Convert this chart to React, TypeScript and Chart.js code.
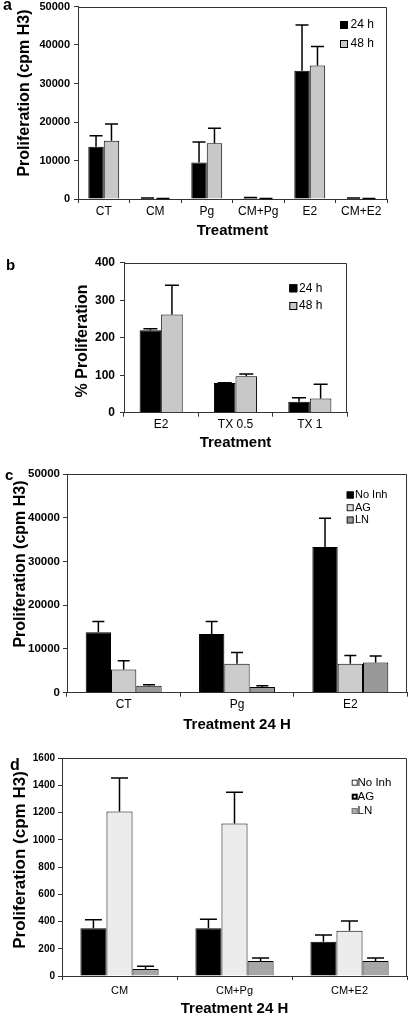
import React, { useEffect, useRef } from "react";
import { Chart, registerables } from "chart.js";

Chart.register(...registerables);
Chart.defaults.font.family = "'Liberation Sans', Arial, sans-serif";
Chart.defaults.color = "#000";

// ---------- Panel a ----------
const catsA = ["CT", "CM", "Pg", "CM+Pg", "E2", "CM+E2"];
const a24h = [13600, 200, 9500, 300, 33300, 200];
const a24hErr = [16400, 260, 14800, 420, 45200, 260];
const a48h = [15100, 100, 14500, 100, 34700, 100];
const a48hErr = [19500, 140, 18400, 140, 39600, 140];
const yMaxA = 50000;
const yStepA = 10000;

// ---------- Panel b ----------
const catsB = ["E2", "TX 0.5", "TX 1"];
const b24h = [220, 79, 29];
const b24hErr = [224, 80, 40];
const b48h = [262, 97, 38];
const b48hErr = [340, 103, 76];
const yMaxB = 400;
const yStepB = 100;

// ---------- Panel c ----------
const catsC = ["CT", "Pg", "E2"];
const cNoInh = [13800, 13400, 33300];
const cNoInhErr = [16300, 16300, 39900];
const cAG = [5300, 6600, 6600];
const cAGErr = [7300, 9200, 8500];
const cLN = [1600, 1300, 6900];
const cLNErr = [1800, 1600, 8400];
const yMaxC = 50000;
const yStepC = 10000;

// ---------- Panel d ----------
const catsD = ["CM", "CM+Pg", "CM+E2"];
const dNoInh = [350, 350, 252];
const dNoInhErr = [412, 417, 301];
const dAG = [1208, 1120, 333];
const dAGErr = [1453, 1348, 404];
const dLN = [51, 110, 110];
const dLNErr = [71, 132, 132];
const yMaxD = 1600;
const yStepD = 200;

const FONT = "'Liberation Sans', Arial, sans-serif";

type Area = { left: number; top: number; right: number; bottom: number };
type LegendItem = { label: string; fill: string; stroke: string; lw: number };
type PanelCfg = {
  top: number;
  height: number;
  area: Area;
  letter: { text: string; x: number; y: number; size: number };
  yTitle: { text: string; x: number; y: number; size: number };
  xTitle: { text: string; pad: number; size: number };
  cats: string[];
  datasets: { label: string; data: number[]; err: number[]; color: string }[];
  yMax: number;
  yStep: number;
  catPct: number;
  cap: number;
  yTickSize: number;
  yTickPad: number;
  xTickSize: number;
  xTickPad: number;
  legend: { boxLeft: number; box: number; textX: number; ys: number[]; size: number; items: LegendItem[] };
};

const W = 413;

const panels: PanelCfg[] = [
  {
    top: 0,
    height: 240,
    area: { left: 78, top: 6.5, right: 387, bottom: 199 },
    letter: { text: "a", x: 3, y: 10, size: 16 },
    yTitle: { text: "Proliferation (cpm H3)", x: 29, y: 93, size: 16 },
    xTitle: { text: "Treatment", pad: 0.5, size: 15 },
    cats: catsA,
    datasets: [
      { label: "24 h", data: a24h, err: a24hErr, color: "#000000" },
      { label: "48 h", data: a48h, err: a48hErr, color: "#c8c8c8" },
    ],
    yMax: yMaxA,
    yStep: yStepA,
    catPct: 0.6,
    cap: 13,
    yTickSize: 11,
    yTickPad: 4,
    xTickSize: 12,
    xTickPad: 1.3,
    legend: {
      boxLeft: 340,
      box: 8,
      textX: 350.5,
      ys: [25, 44],
      size: 12,
      items: [
        { label: "24 h", fill: "#000000", stroke: "#000000", lw: 1 },
        { label: "48 h", fill: "#c8c8c8", stroke: "#000000", lw: 1 },
      ],
    },
  },
  {
    top: 240,
    height: 215,
    area: { left: 124, top: 22.7, right: 347, bottom: 172.7 },
    letter: { text: "b", x: 6, y: 30, size: 15 },
    yTitle: { text: "% Proliferation", x: 87, y: 101, size: 16 },
    xTitle: { text: "Treatment", pad: 3.5, size: 15 },
    cats: catsB,
    datasets: [
      { label: "24 h", data: b24h, err: b24hErr, color: "#000000" },
      { label: "48 h", data: b48h, err: b48hErr, color: "#c8c8c8" },
    ],
    yMax: yMaxB,
    yStep: yStepB,
    catPct: 0.58,
    cap: 14,
    yTickSize: 12,
    yTickPad: 5,
    xTickSize: 12,
    xTickPad: 1.1,
    legend: {
      boxLeft: 289.3,
      box: 8,
      textX: 299,
      ys: [48.3, 66],
      size: 12,
      items: [
        { label: "24 h", fill: "#000000", stroke: "#000000", lw: 1 },
        { label: "48 h", fill: "#c8c8c8", stroke: "#000000", lw: 1 },
      ],
    },
  },
  {
    top: 455,
    height: 280,
    area: { left: 67, top: 19, right: 407, bottom: 237.7 },
    letter: { text: "c", x: 5, y: 25, size: 15 },
    yTitle: { text: "Proliferation (cpm H3)", x: 25, y: 109, size: 16 },
    xTitle: { text: "Treatment 24 H", pad: 1, size: 15 },
    cats: catsC,
    datasets: [
      { label: "No Inh", data: cNoInh, err: cNoInhErr, color: "#000000" },
      { label: "AG", data: cAG, err: cAGErr, color: "#cccccc" },
      { label: "LN", data: cLN, err: cLNErr, color: "#999999" },
    ],
    yMax: yMaxC,
    yStep: yStepC,
    catPct: 0.67,
    cap: 12,
    yTickSize: 11.5,
    yTickPad: 3,
    xTickSize: 12,
    xTickPad: 1.1,
    legend: {
      boxLeft: 346.7,
      box: 7,
      textX: 355,
      ys: [40, 52.7, 65],
      size: 11,
      items: [
        { label: "No Inh", fill: "#000000", stroke: "#000000", lw: 1 },
        { label: "AG", fill: "#dddddd", stroke: "#222222", lw: 1 },
        { label: "LN", fill: "#999999", stroke: "#222222", lw: 1 },
      ],
    },
  },
  {
    top: 735,
    height: 283,
    area: { left: 62, top: 23, right: 407, bottom: 241 },
    letter: { text: "d", x: 10, y: 35, size: 16 },
    yTitle: { text: "Proliferation (cpm H3)", x: 25, y: 125, size: 17 },
    xTitle: { text: "Treatment 24 H", pad: 0, size: 15 },
    cats: catsD,
    datasets: [
      { label: "No Inh", data: dNoInh, err: dNoInhErr, color: "#000000" },
      { label: "AG", data: dAG, err: dAGErr, color: "#ececec" },
      { label: "LN", data: dLN, err: dLNErr, color: "#a6a6a6" },
    ],
    yMax: yMaxD,
    yStep: yStepD,
    catPct: 0.68,
    cap: 17,
    yTickSize: 10,
    yTickPad: 3,
    xTickSize: 11,
    xTickPad: 4.4,
    legend: {
      boxLeft: 351.7,
      box: 6,
      textX: 357.5,
      ys: [47.7, 61.7, 76],
      size: 11.5,
      items: [
        { label: "No Inh", fill: "#ffffff", stroke: "#333333", lw: 1 },
        { label: "AG", fill: "#ffffff", stroke: "#000000", lw: 2 },
        { label: "LN", fill: "#aaaaaa", stroke: "#777777", lw: 1 },
      ],
    },
  },
];

function makePlugin(cfg: PanelCfg) {
  return {
    id: "panelDeco",
    afterDatasetsDraw(chart: any) {
      const ctx = chart.ctx as CanvasRenderingContext2D;
      const ys = chart.scales.y;
      cfg.datasets.forEach((ds, i) => {
        const meta = chart.getDatasetMeta(i);
        meta.data.forEach((bar: any, j: number) => {
          const e = ds.err[j];
          if (e == null) return;
          const x = bar.x;
          const y0 = bar.y;
          const y1 = ys.getPixelForValue(e);
          ctx.save();
          ctx.strokeStyle = "#000";
          ctx.lineWidth = 1.5;
          ctx.beginPath();
          ctx.moveTo(x, y0);
          ctx.lineTo(x, y1);
          ctx.moveTo(x - cfg.cap / 2, y1);
          ctx.lineTo(x + cfg.cap / 2, y1);
          ctx.stroke();
          ctx.restore();
        });
      });
    },
    afterDraw(chart: any) {
      const ctx = chart.ctx as CanvasRenderingContext2D;
      const ca = chart.chartArea;
      ctx.save();
      // box top & right
      ctx.strokeStyle = "#333";
      ctx.lineWidth = 1;
      ctx.beginPath();
      ctx.moveTo(ca.left, Math.round(ca.top) + 0.5);
      ctx.lineTo(Math.round(ca.right) - 0.5, Math.round(ca.top) + 0.5);
      ctx.lineTo(Math.round(ca.right) - 0.5, ca.bottom);
      ctx.stroke();

      // panel letter
      ctx.fillStyle = "#000";
      ctx.font = `bold ${cfg.letter.size}px ${FONT}`;
      ctx.textAlign = "left";
      ctx.textBaseline = "alphabetic";
      ctx.fillText(cfg.letter.text, cfg.letter.x, cfg.letter.y);

      // y title
      ctx.save();
      ctx.translate(cfg.yTitle.x, cfg.yTitle.y);
      ctx.rotate(-Math.PI / 2);
      ctx.font = `bold ${cfg.yTitle.size}px ${FONT}`;
      ctx.textAlign = "center";
      ctx.textBaseline = "alphabetic";
      ctx.fillText(cfg.yTitle.text, 0, 0);
      ctx.restore();

      // legend
      const lg = cfg.legend;
      ctx.font = `${lg.size}px ${FONT}`;
      ctx.textAlign = "left";
      ctx.textBaseline = "middle";
      lg.items.forEach((it, i) => {
        const cy = lg.ys[i];
        const x0 = lg.boxLeft;
        const y0 = cy - lg.box / 2;
        ctx.fillStyle = it.fill;
        ctx.fillRect(x0, y0, lg.box, lg.box);
        ctx.strokeStyle = it.stroke;
        ctx.lineWidth = it.lw;
        ctx.strokeRect(x0 + it.lw / 2, y0 + it.lw / 2, lg.box - it.lw, lg.box - it.lw);
        ctx.fillStyle = "#000";
        ctx.fillText(it.label, lg.textX, cy);
      });
      ctx.restore();
    },
  };
}

function Panel({ cfg }: { cfg: PanelCfg }) {
  const ref = useRef<HTMLCanvasElement>(null);
  useEffect(() => {
    const canvas = ref.current;
    if (!canvas) return;
    const chart = new Chart(canvas, {
      type: "bar",
      data: {
        labels: cfg.cats,
        datasets: cfg.datasets.map((d) => ({
          label: d.label,
          data: d.data,
          backgroundColor: d.color,
          borderColor: "#000",
          borderWidth: 1,
          barPercentage: 1,
          categoryPercentage: cfg.catPct,
        })),
      },
      options: {
        animation: false,
        responsive: false,
        maintainAspectRatio: false,
        devicePixelRatio: 1,
        events: [],
        layout: {
          padding: { left: 0, top: cfg.area.top, right: W - cfg.area.right, bottom: 0 },
        },
        plugins: {
          legend: { display: false },
          tooltip: { enabled: false },
          title: { display: false },
        },
        scales: {
          x: {
            offset: true,
            grid: { drawOnChartArea: false, tickLength: 4, color: "#333", offset: true },
            border: { color: "#333", width: 1 },
            ticks: {
              font: { size: cfg.xTickSize },
              padding: cfg.xTickPad,
              color: "#000",
              maxRotation: 0,
              autoSkip: false,
            },
            title: {
              display: true,
              text: cfg.xTitle.text,
              font: { size: cfg.xTitle.size, weight: "bold" },
              padding: { top: 0, bottom: cfg.xTitle.pad },
              color: "#000",
            },
            afterFit: (s: any) => {
              s.height = cfg.height - cfg.area.bottom;
              s.paddingLeft = 0;
              s.paddingRight = 0;
            },
          },
          y: {
            min: 0,
            max: cfg.yMax,
            grid: { drawOnChartArea: false, tickLength: 4, color: "#333" },
            border: { color: "#333", width: 1 },
            ticks: {
              stepSize: cfg.yStep,
              font: { size: cfg.yTickSize, weight: "bold" },
              padding: cfg.yTickPad,
              color: "#000",
              callback: (v: any) => String(v),
            },
            afterFit: (s: any) => {
              s.width = cfg.area.left;
              s.paddingTop = 0;
              s.paddingBottom = 0;
            },
          },
        },
      } as any,
      plugins: [makePlugin(cfg)],
    });
    return () => chart.destroy();
  }, [cfg]);
  return (
    <canvas
      ref={ref}
      width={W}
      height={cfg.height}
      style={{ position: "absolute", left: 0, top: cfg.top, width: W, height: cfg.height, display: "block" }}
    />
  );
}

export default function App() {
  return (
    <div style={{ position: "absolute", left: 0, top: 0, width: W, height: 1018, background: "#fff", overflow: "hidden" }}>
      {panels.map((p, i) => (
        <Panel key={i} cfg={p} />
      ))}
    </div>
  );
}
